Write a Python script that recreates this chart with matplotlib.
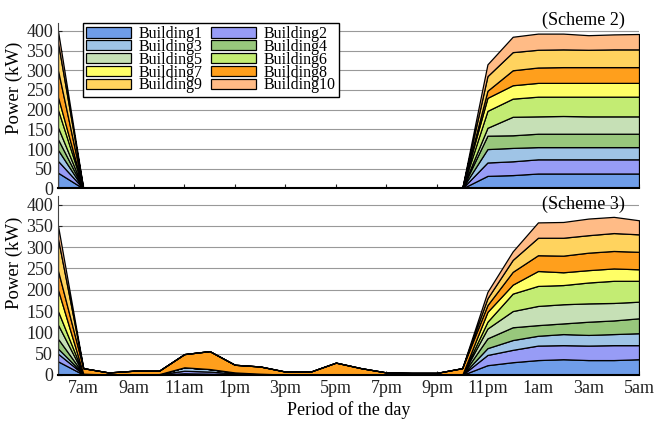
import matplotlib
matplotlib.use("Agg")
import matplotlib.pyplot as plt

plt.rcParams['font.family'] = ['Liberation Serif', 'DejaVu Serif']

# hours from 6am (6) to 5am next day (29)
hours = list(range(6, 30))
tick_hours = [7, 9, 11, 13, 15, 17, 19, 21, 23, 25, 27, 29]
tick_labels = ['7am', '9am', '11am', '1pm', '3pm', '5pm', '7pm', '9pm',
               '11pm', '1am', '3am', '5am']

names = ['Building%d' % i for i in range(1, 11)]
colors = ['#6f9de9', '#979cf6', '#9fc4e6', '#98c77c', '#c6e0b6',
          '#c3ec73', '#ffff66', '#ff9f1c', '#ffd35e', '#ffbb86']

z16 = [0] * 16

# Scheme 2 (kW per building)
s2_b1 = [40] + z16 + [32, 34, 38, 38, 38, 38, 38]
s2_b2 = [30] + z16 + [34, 35, 36, 36, 36, 36, 36]
s2_b3 = [28] + z16 + [34, 34, 31, 31, 31, 31, 31]
s2_b4 = [27] + z16 + [34, 32, 34, 34, 34, 34, 34]
s2_b5 = [30] + z16 + [20, 47, 44, 45, 44, 44, 44]
s2_b6 = [45] + z16 + [43, 46, 50, 49, 50, 50, 50]
s2_b7 = [32] + z16 + [33, 34, 35, 35, 35, 35, 35]
s2_b8 = [68] + z16 + [18, 38, 39, 40, 40, 40, 40]
s2_b9 = [70] + z16 + [37, 46, 45, 45, 44, 45, 45]
s2_b10 = [30] + z16 + [30, 39, 41, 40, 37, 38, 39]

# Scheme 3 (kW per building)
s3_b1 = [32, 1, 1, 1, 1, 4, 3, 2, 1, 1, 1, 1, 1, 1, 1, 1, 0, 23, 30, 35, 37, 35, 35, 37]
s3_b2 = [18, 1, 0, 1, 1, 6, 5, 2, 1, 0, 0, 0, 0, 0, 0, 0, 0, 24, 29, 34, 33, 34, 35, 33]
s3_b3 = [12, 1, 0, 0, 0, 8, 6, 2, 1, 0, 0, 0, 0, 0, 0, 0, 0, 16, 23, 23, 26, 25, 26, 28]
s3_b4 = [23, 0, 0, 0, 0, 0, 0, 0, 0, 0, 0, 0, 0, 0, 0, 0, 0, 23, 30, 25, 25, 31, 32, 35]
s3_b5 = [33, 0, 0, 0, 0, 0, 0, 0, 0, 0, 0, 0, 0, 0, 0, 0, 0, 23, 38, 45, 45, 43, 41, 39]
s3_b6 = [32, 0, 0, 0, 0, 0, 0, 0, 0, 0, 0, 0, 0, 0, 0, 0, 0, 16, 41, 47, 45, 49, 52, 49]
s3_b7 = [50, 0, 0, 0, 0, 0, 0, 0, 0, 0, 0, 0, 0, 0, 0, 0, 0, 23, 21, 35, 30, 29, 29, 27]
s3_b8 = [45, 13, 5, 8, 8, 31, 42, 18, 17, 7, 7, 28, 15, 5, 4, 4, 16, 16, 30, 37, 39, 41, 41, 41]
s3_b9 = [75, 0, 0, 0, 0, 0, 0, 0, 0, 0, 0, 0, 0, 0, 0, 0, 0, 16, 28, 41, 42, 41, 42, 41]
s3_b10 = [30, 0, 0, 0, 0, 0, 0, 0, 0, 0, 0, 0, 0, 0, 0, 0, 0, 15, 20, 36, 37, 39, 38, 33]

scheme2 = [s2_b1, s2_b2, s2_b3, s2_b4, s2_b5, s2_b6, s2_b7, s2_b8, s2_b9, s2_b10]
scheme3 = [s3_b1, s3_b2, s3_b3, s3_b4, s3_b5, s3_b6, s3_b7, s3_b8, s3_b9, s3_b10]

fig = plt.figure(figsize=(6.57, 4.23), dpi=100)
ax1 = fig.add_axes([0.0883, 0.5544, 0.8843, 0.3913])
ax2 = fig.add_axes([0.0883, 0.1135, 0.8843, 0.4232])

panels = [(ax1, scheme2, '(Scheme 2)', 0.988, 0.607),
          (ax2, scheme3, '(Scheme 3)', 0.927, 0.626)]
for ax, data, title, title_y, label_y in panels:
    ax.stackplot(hours, data, colors=colors, labels=names,
                 edgecolor='black', linewidth=0.9, zorder=2)
    ax.set_xlim(6, 29)
    ax.set_ylim(0, 420)
    ax.set_yticks(range(0, 401, 50))
    ax.set_xticks(tick_hours)
    ax.yaxis.grid(True, color='#999999', linewidth=0.8, zorder=0)
    ax.set_axisbelow(True)
    ax.spines['top'].set_visible(False)
    ax.spines['right'].set_visible(False)
    ax.spines['bottom'].set_linewidth(1.5)
    ax.spines['left'].set_color('#444444')
    ax.tick_params(direction='in', length=3, labelsize=13, colors='#222222')
    ax.set_ylabel('Power (kW)', fontsize=13.5)
    ax.yaxis.set_label_coords(-0.06, label_y)
    ax.text(0.976, title_y, title, transform=ax.transAxes, ha='right',
            va='baseline', fontsize=13)

ax1.set_xticklabels([])
ax2.set_xticklabels(tick_labels)
ax2.set_xlabel('Period of the day', fontsize=13, labelpad=3)

# legend filled row by row: Building1 Building2 / Building3 Building4 ...
handles, labels = ax1.get_legend_handles_labels()
order = [0, 2, 4, 6, 8, 1, 3, 5, 7, 9]
ax1.legend([handles[i] for i in order], [labels[i] for i in order],
           loc='upper left', bbox_to_anchor=(0.043, 1.0), ncol=2,
           fontsize=11.5, frameon=True, fancybox=False, edgecolor='black',
           framealpha=1, borderaxespad=0, handlelength=2.8, handleheight=0.6,
           labelspacing=-0.2, columnspacing=0.5, handletextpad=0.5,
           borderpad=0.2)

fig.savefig('out.png', dpi=100)
